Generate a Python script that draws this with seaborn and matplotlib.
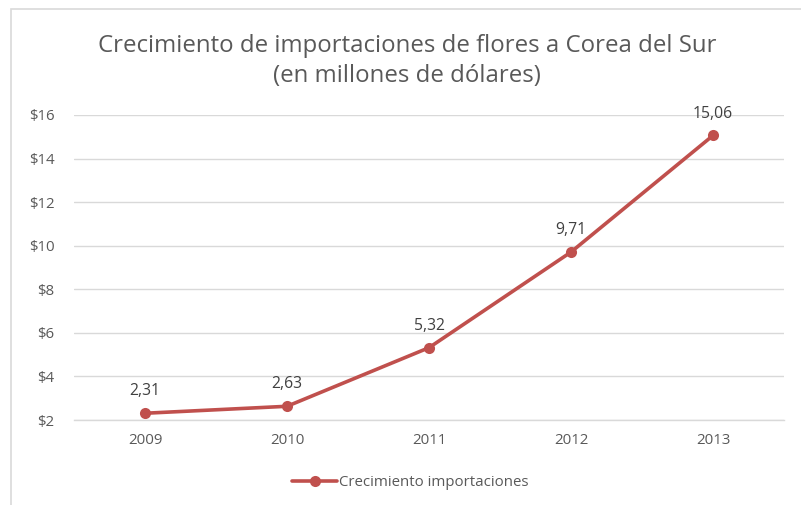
import pandas as pd
import matplotlib.pyplot as plt
import seaborn as sns
from matplotlib.patches import Rectangle

years = ['2009', '2010', '2011', '2012', '2013']
values = [2.31, 2.63, 5.32, 9.71, 15.06]
value_labels = ['2,31', '2,63', '5,32', '9,71', '15,06']
y_ticks = [2, 4, 6, 8, 10, 12, 14, 16]
y_tick_labels = ['$2', '$4', '$6', '$8', '$10', '$12', '$14', '$16']
series_name = 'Crecimiento importaciones'
title = 'Crecimiento de importaciones de flores a Corea del Sur\n(en millones de dólares)'

df = pd.DataFrame({'year': years, 'value': values, 'serie': series_name})

sns.set_theme(style='white')
plt.rcParams['font.family'] = ['Open Sans', 'DejaVu Sans']

red = '#C0504D'
text_grey = '#595959'

fig = plt.figure(figsize=(8.01, 5.05), dpi=100)
ax = fig.add_axes([0.0924, 0.1683, 0.8864, 0.604])

sns.lineplot(data=df, x='year', y='value', hue='serie', palette=[red],
             marker='o', markersize=8, markeredgewidth=0, linewidth=2.6,
             ax=ax, sort=False)

ax.set_xlim(-0.5, 4.5)
ax.set_ylim(2, 16)
ax.set_yticks(y_ticks)
ax.set_yticklabels(y_tick_labels)
ax.yaxis.grid(True, color='#D9D9D9', linewidth=1)
ax.set_axisbelow(True)
for s in ['top', 'right', 'left']:
    ax.spines[s].set_visible(False)
ax.spines['bottom'].set_color('#D9D9D9')
ax.spines['bottom'].set_linewidth(1)
ax.tick_params(axis='both', length=0, labelsize=10.8, labelcolor=text_grey)
ax.tick_params(axis='y', pad=14)
ax.tick_params(axis='x', pad=9)
ax.set_xlabel('')
ax.set_ylabel('')

for i, (v, lab) in enumerate(zip(values, value_labels)):
    ax.annotate(lab, (i, v), xytext=(0, 10), textcoords='offset points',
                ha='center', va='bottom', fontsize=11.3, color='#404040')

fig.suptitle(title, x=0.508, y=0.933, fontsize=17.3, color=text_grey,
             linespacing=1.35)

leg = ax.legend(loc='center', bbox_to_anchor=(0.512, 0.044),
                bbox_transform=fig.transFigure, frameon=False,
                fontsize=10.8, handlelength=3.0, handletextpad=0.1)
for t in leg.get_texts():
    t.set_color(text_grey)

fig.patches.append(Rectangle((11 / 801, -0.1), 1.2, 1 - 9 / 505 + 0.1,
                             transform=fig.transFigure, fill=False,
                             edgecolor='#D9D9D9', linewidth=1.2))

fig.savefig('out.png', dpi=100)
